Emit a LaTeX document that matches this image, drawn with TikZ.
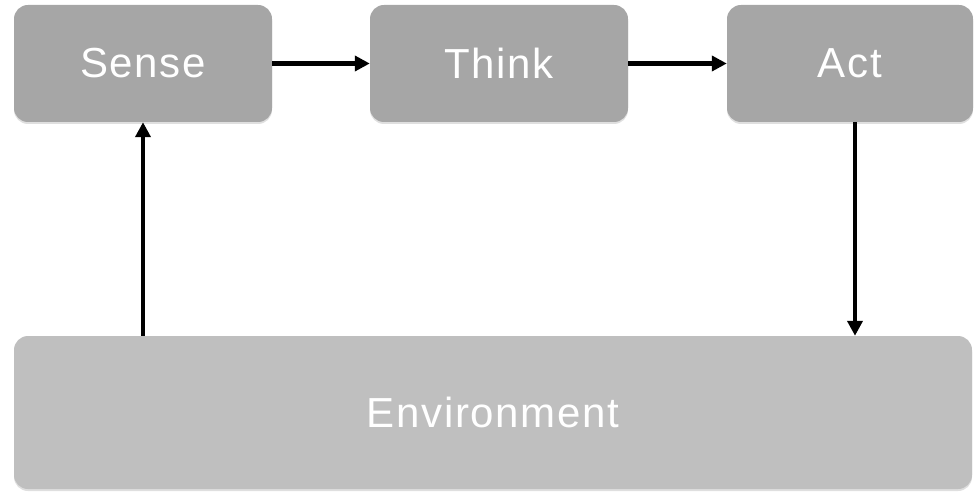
\documentclass[tikz,border=0pt]{standalone}
\usepackage{fontspec}
\setmainfont{Liberation Sans}[LetterSpace=4]
\usetikzlibrary{arrows.meta,shadows}
\definecolor{boxgray}{HTML}{A6A6A6}
\definecolor{envgray}{HTML}{BFBFBF}
\tikzset{
  stage/.style={fill=boxgray, rounded corners=14pt, text=white,
    minimum width=258pt, minimum height=117pt, inner sep=0pt,
    font=\fontsize{42}{50}\selectfont,
    drop shadow={opacity=0.25, shadow xshift=0pt, shadow yshift=-2pt}},
  world/.style={stage, fill=envgray, minimum width=958pt, minimum height=153pt},
  flow/.style={line width=4.5pt, -{Triangle[length=15pt,width=15pt]}}
}
\begin{document}
\begin{tikzpicture}[x=1pt,y=1pt]
\useasboundingbox (0,0) rectangle (974,-494);
\node[stage] (sense) at (143,-63.5) {Sense};
\node[stage] (think) at (499,-63.5) {Think};
\node[stage, minimum width=246pt] (act) at (850,-63.5) {Act};
\node[world] (env) at (493,-412.5) {Environment};
\draw[flow] (sense) -- (think);
\draw[flow] (think) -- (act);
\draw[flow] (act.south -| 855,0) -- (env.north -| 855,0);
\draw[flow] (env.north -| sense) -- (sense);
\end{tikzpicture}
\end{document}
